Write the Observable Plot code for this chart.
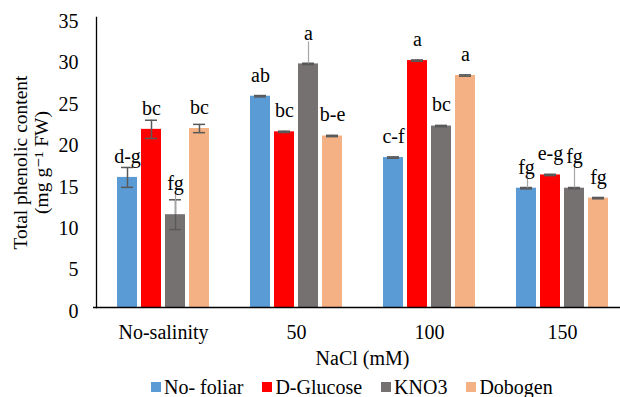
<!DOCTYPE html>
<html>
<head>
<meta charset="utf-8">
<script src="https://cdn.jsdelivr.net/npm/d3@7"></script>
<script src="https://cdn.jsdelivr.net/npm/@observablehq/plot@0.6"></script>
<style>
  html, body { margin: 0; padding: 0; background: #fff; }
  #wrap { position: relative; width: 620px; height: 397px; font-family: "Liberation Serif", "Times New Roman", Times, "DejaVu Serif", serif; }
  #legend { position: absolute; left: 151px; top: 375px; height: 24px; display: flex; align-items: center; font-size: 20px; color: #000; white-space: nowrap; }
  .item { display: flex; align-items: center; margin-right: 19px; }
  .sw { width: 10px; height: 10px; margin-right: 3px; }
  #chart svg text { font-family: "Liberation Serif", "Times New Roman", Times, "DejaVu Serif", serif; }
</style>
</head>
<body>
<div id="wrap"><div id="chart"></div><div id="legend"></div></div>
<script>
// ---- data ----
const groups = ["No-salinity", "50", "100", "150"];
const series = ["No- foliar", "D-Glucose", "KNO3", "Dobogen"];
const colors = ["#5B9BD5", "#FF0000", "#767171", "#F4B183"];

const noFoliar = [15.7, 25.5, 18.1, 14.4];
const dGlucose = [21.5, 21.2, 29.8, 16.0];
const kno3     = [11.2, 29.4, 21.9, 14.4];
const dobogen  = [21.6, 20.7, 28.0, 13.2];

const errNoFoliar = [1.2, 0.08, 0.08, 0.08];
const errDGlucose = [1.1, 0.08, 0.08, 0.08];
const errKno3     = [1.8, 0.08, 0.08, 0.08];
const errDobogen  = [0.5, 0.08, 0.08, 0.08];

const letNoFoliar = ["d-g", "ab", "c-f", "fg"];
const letDGlucose = ["bc", "bc", "a", "e-g"];
const letKno3     = ["fg", "a", "bc", "fg"];
const letDobogen  = ["bc", "b-e", "a", "fg"];

const yTicks = [0, 5, 10, 15, 20, 25, 30, 35];

// ---- build table ----
const vals = [noFoliar, dGlucose, kno3, dobogen];
const errs = [errNoFoliar, errDGlucose, errKno3, errDobogen];
const lets = [letNoFoliar, letDGlucose, letKno3, letDobogen];
const rows = groups.flatMap((g, i) => series.map((s, j) => ({
  group: g, series: s, value: vals[j][i], err: errs[j][i], letter: lets[j][i]
})));

// label layout (style): labels lifted above others, with leader lines
const lifted = {"No-salinity|KNO3": 31, "50|KNO3": 30, "150|KNO3": 32};
const leaders = {"No-salinity|KNO3": 24, "50|KNO3": 22, "150|KNO3": 25, "150|No- foliar": 12};
const pxPerUnit = 290 / 35;
const key = d => d.group + "|" + d.series;
const FONT = "'Liberation Serif', 'Times New Roman', Times, 'DejaVu Serif', serif";
const FS = 20;

const marks = [];
series.forEach((s, j) => {
  const dx = (j - 1.5) * 24;
  const data = rows.filter(d => d.series === s);
  const normal = data.filter(d => !(key(d) in lifted));
  const up = data.filter(d => key(d) in lifted);
  const lead = data.filter(d => key(d) in leaders);
  marks.push(
    Plot.barY(data, {x: "group", y: "value", fill: "series", dx}),
    Plot.ruleX(data, {x: "group", y1: d => d.value - d.err, y2: d => d.value + d.err, stroke: "#595959", strokeWidth: 1.5, dx}),
    Plot.tickY(data, {x: "group", y: d => d.value + d.err, stroke: "#595959", strokeWidth: 1.5, insetLeft: 4, insetRight: 4, dx}),
    Plot.tickY(data, {x: "group", y: d => d.value - d.err, stroke: "#595959", strokeWidth: 1.5, insetLeft: 4, insetRight: 4, dx}),
    Plot.ruleX(lead, {x: "group", y1: "value", y2: d => d.value + leaders[key(d)] / pxPerUnit, stroke: "#A6A6A6", strokeWidth: 1.2, dx: dx + (s === "No- foliar" ? 1 : 0)}),
    Plot.text(normal, {x: "group", y: "value", text: "letter", dy: -21, dx, fill: "#000", fontSize: FS}),
    ...up.map(d => Plot.text([d], {x: "group", y: "value", text: "letter", dy: -lifted[key(d)], dx, fill: "#000", fontSize: FS}))
  );
});

const chart = Plot.plot({
  width: 620,
  height: 372,
  marginLeft: 96,
  marginRight: 0,
  marginTop: 17,
  marginBottom: 65,
  style: {fontFamily: FONT, fontSize: FS + "px", color: "#000", background: "#fff", overflow: "visible"},
  x: {domain: groups, range: [96, 629], paddingInner: 0.85, paddingOuter: 0.425},
  y: {domain: [0, 35]},
  color: {domain: series, range: colors},
  marks: [
    ...marks,
    Plot.ruleY([0], {stroke: "#000", strokeWidth: 1.3, insetLeft: -3}),
    Plot.frame({anchor: "left", stroke: "#000", strokeWidth: 1.3}),
    Plot.axisY({ticks: yTicks, tickSize: 0, tickPadding: 18, dy: 4, label: null, fontSize: FS}),
    Plot.axisX({tickSize: 0, tickPadding: 17, label: null, fontSize: FS}),
    Plot.text(["NaCl (mM)"], {frameAnchor: "bottom", dy: 57, dx: 4, fontSize: FS, fill: "#000"}),
    Plot.text(["Total phenolic content\n(mg g\u207B\u00B9 FW)"], {frameAnchor: "left", textAnchor: "middle", rotate: -90, dx: -66, lineHeight: 1.1, fontSize: 19.5, fill: "#000"})
  ]
});
document.getElementById("chart").appendChild(chart);

// legend (HTML, below the SVG)
const legend = document.getElementById("legend");
series.forEach((s, j) => {
  const it = document.createElement("div");
  it.className = "item";
  const sw = document.createElement("span");
  sw.className = "sw";
  sw.style.background = colors[j];
  const t = document.createElement("span");
  t.textContent = s;
  it.appendChild(sw); it.appendChild(t);
  legend.appendChild(it);
});
</script>
</body>
</html>
